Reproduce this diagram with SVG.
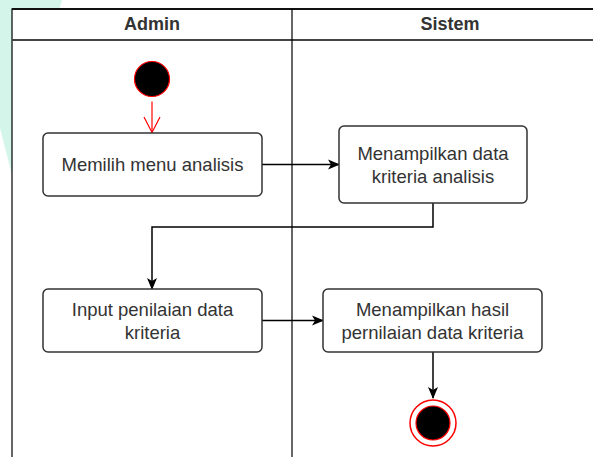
<svg xmlns="http://www.w3.org/2000/svg" width="593" height="457" viewBox="0 0 593 457">
  <style>
    .lane-title { font-family: "Liberation Sans", Arial, sans-serif; font-size: 18px; font-weight: bold; fill: #333333; text-anchor: middle; }
    .label { font-family: "Liberation Sans", Arial, sans-serif; font-size: 18.5px; fill: #333333; text-anchor: middle; }
    .action { fill: #ffffff; stroke: #333333; stroke-width: 1.5; }
    .flow { fill: none; stroke: #000000; stroke-width: 1.5; }
  </style>
  <defs>
    <marker id="arrow" viewBox="0 0 12 12" refX="11" refY="6" markerWidth="12" markerHeight="12" markerUnits="userSpaceOnUse" orient="auto">
      <path d="M0,1 L12,6 L0,11 L3,6 Z" fill="#000000"/>
    </marker>
  </defs>

  <!-- backdrop -->
  <rect x="0" y="0" width="593" height="457" fill="#ffffff"/>
  <polygon points="0,0 62,0 12,175 0,128" fill="#d4f5ea"/>

  <!-- swimlane frame -->
  <g id="swimlanes">
    <rect x="12" y="9" width="600" height="470" fill="#ffffff" stroke="#000000" stroke-width="1.2"/>
    <line x1="12" y1="9" x2="593" y2="9" stroke="#111111" stroke-width="2"/>
    <line x1="12" y1="40" x2="593" y2="40" stroke="#444444" stroke-width="2"/>
    <line x1="292" y1="9" x2="292" y2="457" stroke="#000000" stroke-width="1.2"/>
    <text class="lane-title" x="152" y="29.5">Admin</text>
    <text class="lane-title" x="450" y="29.5">Sistem</text>
  </g>

  <!-- connectors -->
  <g id="connectors">
    <line x1="152" y1="101.5" x2="152" y2="132.5" stroke="#ff0000" stroke-width="1.2"/>
    <polyline points="144,117 152,132.5 160,117" fill="none" stroke="#ff0000" stroke-width="1.2"/>
    <line class="flow" x1="262" y1="164.5" x2="339" y2="164.5" marker-end="url(#arrow)"/>
    <polyline class="flow" points="433,203 433,227 152,227 152,289" marker-end="url(#arrow)"/>
    <line class="flow" x1="262" y1="320.5" x2="323" y2="320.5" marker-end="url(#arrow)"/>
    <line class="flow" x1="433" y1="352" x2="433" y2="398" marker-end="url(#arrow)"/>
  </g>

  <!-- start -->
  <g id="start">
    <circle cx="152" cy="79" r="17.5" fill="#000000" stroke="#ff0000" stroke-width="1.2"/>
  </g>

  <g id="memilih-menu">
    <rect class="action" x="43" y="133" width="219" height="63" rx="5"/>
    <text class="label" x="152.5" y="171">Memilih menu analisis</text>
  </g>

  <g id="tampil-kriteria">
    <rect class="action" x="339" y="126" width="188" height="77" rx="5"/>
    <text class="label" x="433" y="159.5">Menampilkan data</text>
    <text class="label" x="433" y="182.5">kriteria analisis</text>
  </g>

  <g id="input-penilaian">
    <rect class="action" x="43" y="289" width="219" height="63" rx="5"/>
    <text class="label" x="152.5" y="315.5">Input penilaian data</text>
    <text class="label" x="152.5" y="338.5">kriteria</text>
  </g>

  <g id="tampil-hasil">
    <rect class="action" x="323" y="289" width="219" height="63" rx="5"/>
    <text class="label" x="432.5" y="315.5">Menampilkan hasil</text>
    <text class="label" x="432.5" y="338.5">pernilaian data kriteria</text>
  </g>

  <!-- end -->
  <g id="end">
    <circle cx="433" cy="423" r="23" fill="#ffffff" stroke="#ff0000" stroke-width="1.5"/>
    <circle cx="433" cy="423" r="17" fill="#000000" stroke="#ff0000" stroke-width="1.2"/>
  </g>
</svg>
